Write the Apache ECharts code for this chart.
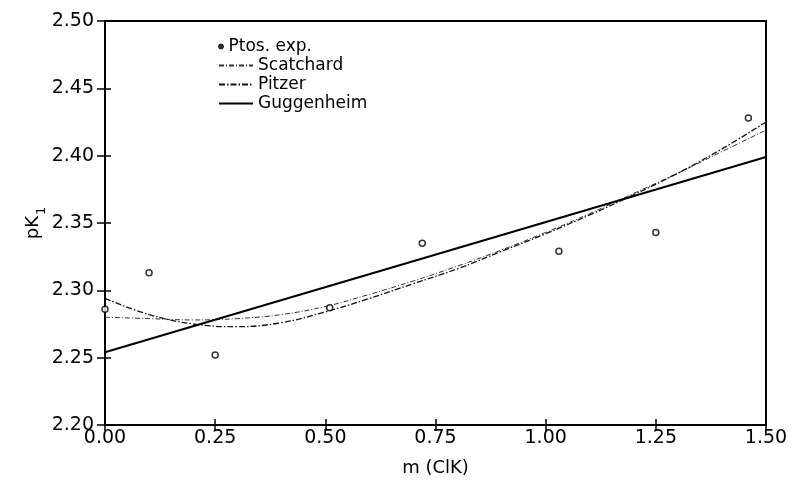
<!DOCTYPE html>
<html>
<head>
<meta charset="utf-8">
<script src="https://cdn.jsdelivr.net/npm/echarts@6/dist/echarts.min.js"></script>
<style>html,body{margin:0;padding:0;background:#fff;}#c{width:792px;height:490px;}</style>
</head>
<body>
<div id="c"></div>
<script>
// Experimental points
const expM = [0.00, 0.10, 0.25, 0.51, 0.72, 1.03, 1.25, 1.46];
const expPK = [2.286, 2.313, 2.252, 2.287, 2.335, 2.329, 2.343, 2.428];
// Fitted curves (read at m steps)
const curveM = [0.0, 0.1, 0.2, 0.3, 0.4, 0.5, 0.6, 0.7, 0.8, 0.9, 1.0, 1.1, 1.2, 1.3, 1.4, 1.5];
const scatchard = [2.280, 2.279, 2.278, 2.279, 2.282, 2.288, 2.297, 2.307, 2.318, 2.330, 2.343, 2.357, 2.372, 2.387, 2.403, 2.419];
const pitzer = [2.294, 2.282, 2.275, 2.273, 2.276, 2.284, 2.294, 2.305, 2.316, 2.329, 2.342, 2.356, 2.371, 2.387, 2.405, 2.425];
const guggM = [0.0, 1.5];
const guggenheim = [2.254, 2.399];
// Axis ticks
const xTicks = [0.00, 0.25, 0.50, 0.75, 1.00, 1.25, 1.50];
const yTicks = [2.20, 2.25, 2.30, 2.35, 2.40, 2.45, 2.50];

const zip = (a, b) => a.map((v, i) => [v, b[i]]);
const FONT = 'DejaVu Sans';
const chart = echarts.init(document.getElementById('c'), null, {renderer: 'canvas'});

const xBase = {
  type: 'value', min: xTicks[0], max: xTicks[xTicks.length - 1], interval: 0.25,
  splitLine: {show: false}
};
const yBase = {
  type: 'value', min: yTicks[0], max: yTicks[yTicks.length - 1], interval: 0.05,
  splitLine: {show: false}
};

chart.setOption({
  animation: false,
  backgroundColor: '#fff',
  textStyle: {fontFamily: FONT, color: '#000'},
  grid: {left: 105, right: 26, top: 21, bottom: 65, show: true, borderColor: '#000', borderWidth: 2},
  xAxis: [
    Object.assign({}, xBase, {
      position: 'bottom',
      name: 'm (ClK)', nameLocation: 'middle', nameGap: 34,
      nameTextStyle: {fontFamily: FONT, fontSize: 18, color: '#000'},
      axisLine: {show: true, lineStyle: {color: '#000', width: 2}},
      axisTick: {show: true, inside: false, length: 6, lineStyle: {color: '#000', width: 1.5}},
      axisLabel: {show: true, margin: 4, fontFamily: FONT, fontSize: 19, color: '#000',
        formatter: v => v.toFixed(2)}
    }),
    Object.assign({}, xBase, {
      position: 'bottom',
      axisLine: {show: false},
      axisTick: {show: true, inside: true, length: 6, lineStyle: {color: '#000', width: 1.5}},
      axisLabel: {show: false}
    })
  ],
  yAxis: [
    Object.assign({}, yBase, {
      position: 'left',
      name: '{a|pK}{b|1}', nameLocation: 'middle', nameGap: 63, nameRotate: 90,
      nameMoveOverlap: false,
      nameTextStyle: {
        rich: {
          a: {fontFamily: FONT, fontSize: 18, color: '#000', lineHeight: 24, verticalAlign: 'bottom'},
          b: {fontFamily: FONT, fontSize: 13, color: '#000', lineHeight: 24, verticalAlign: 'bottom', padding: [0, 0, -6, 1]}
        }
      },
      axisLine: {show: true, lineStyle: {color: '#000', width: 2}},
      axisTick: {show: true, inside: false, length: 8, lineStyle: {color: '#000', width: 1.5}},
      axisLabel: {show: true, margin: 11, fontFamily: FONT, fontSize: 19, color: '#000',
        formatter: v => v.toFixed(2)}
    }),
    Object.assign({}, yBase, {
      position: 'left',
      axisLine: {show: false},
      axisTick: {show: true, inside: true, length: 6, lineStyle: {color: '#000', width: 1.5}},
      axisLabel: {show: false}
    })
  ],
  legend: [
    {
      data: [{name: 'Ptos. exp.', icon: 'circle'}],
      left: 213, top: 33, orient: 'vertical',
      itemWidth: 5, itemHeight: 5, itemGap: 4,
      itemStyle: {color: '#000', borderColor: '#000', borderWidth: 1},
      textStyle: {fontFamily: FONT, fontSize: 17, color: '#000', padding: [0, 0, 0, 0]},
      selectedMode: false
    },
    {
      data: ['Scatchard', 'Pitzer', 'Guggenheim'],
      left: 213, top: 52, orient: 'vertical',
      itemWidth: 34, itemHeight: 8, itemGap: 2,
      itemStyle: {color: 'rgba(0,0,0,0)', borderWidth: 0, opacity: 0},
      textStyle: {fontFamily: FONT, fontSize: 17, color: '#000', lineHeight: 17},
      selectedMode: false
    }
  ],
  series: [
    {
      name: 'Ptos. exp.', type: 'scatter', data: zip(expM, expPK),
      symbol: 'circle', symbolSize: 6,
      itemStyle: {color: '#fff', borderColor: '#000', borderWidth: 1.5},
      z: 5
    },
    {
      name: 'Scatchard', type: 'line', data: zip(curveM, scatchard), smooth: 0.4,
      showSymbol: false, symbol: 'none',
      lineStyle: {color: '#333', width: 1, type: [5, 2, 1, 2]},
      itemStyle: {color: '#333'}
    },
    {
      name: 'Pitzer', type: 'line', data: zip(curveM, pitzer), smooth: 0.4,
      showSymbol: false, symbol: 'none',
      lineStyle: {color: '#111', width: 1.3, type: [6, 2, 1.5, 2]},
      itemStyle: {color: '#111'}
    },
    {
      name: 'Guggenheim', type: 'line', data: zip(guggM, guggenheim),
      showSymbol: false, symbol: 'none',
      lineStyle: {color: '#000', width: 2},
      itemStyle: {color: '#000'}
    }
  ]
});
</script>
</body>
</html>
